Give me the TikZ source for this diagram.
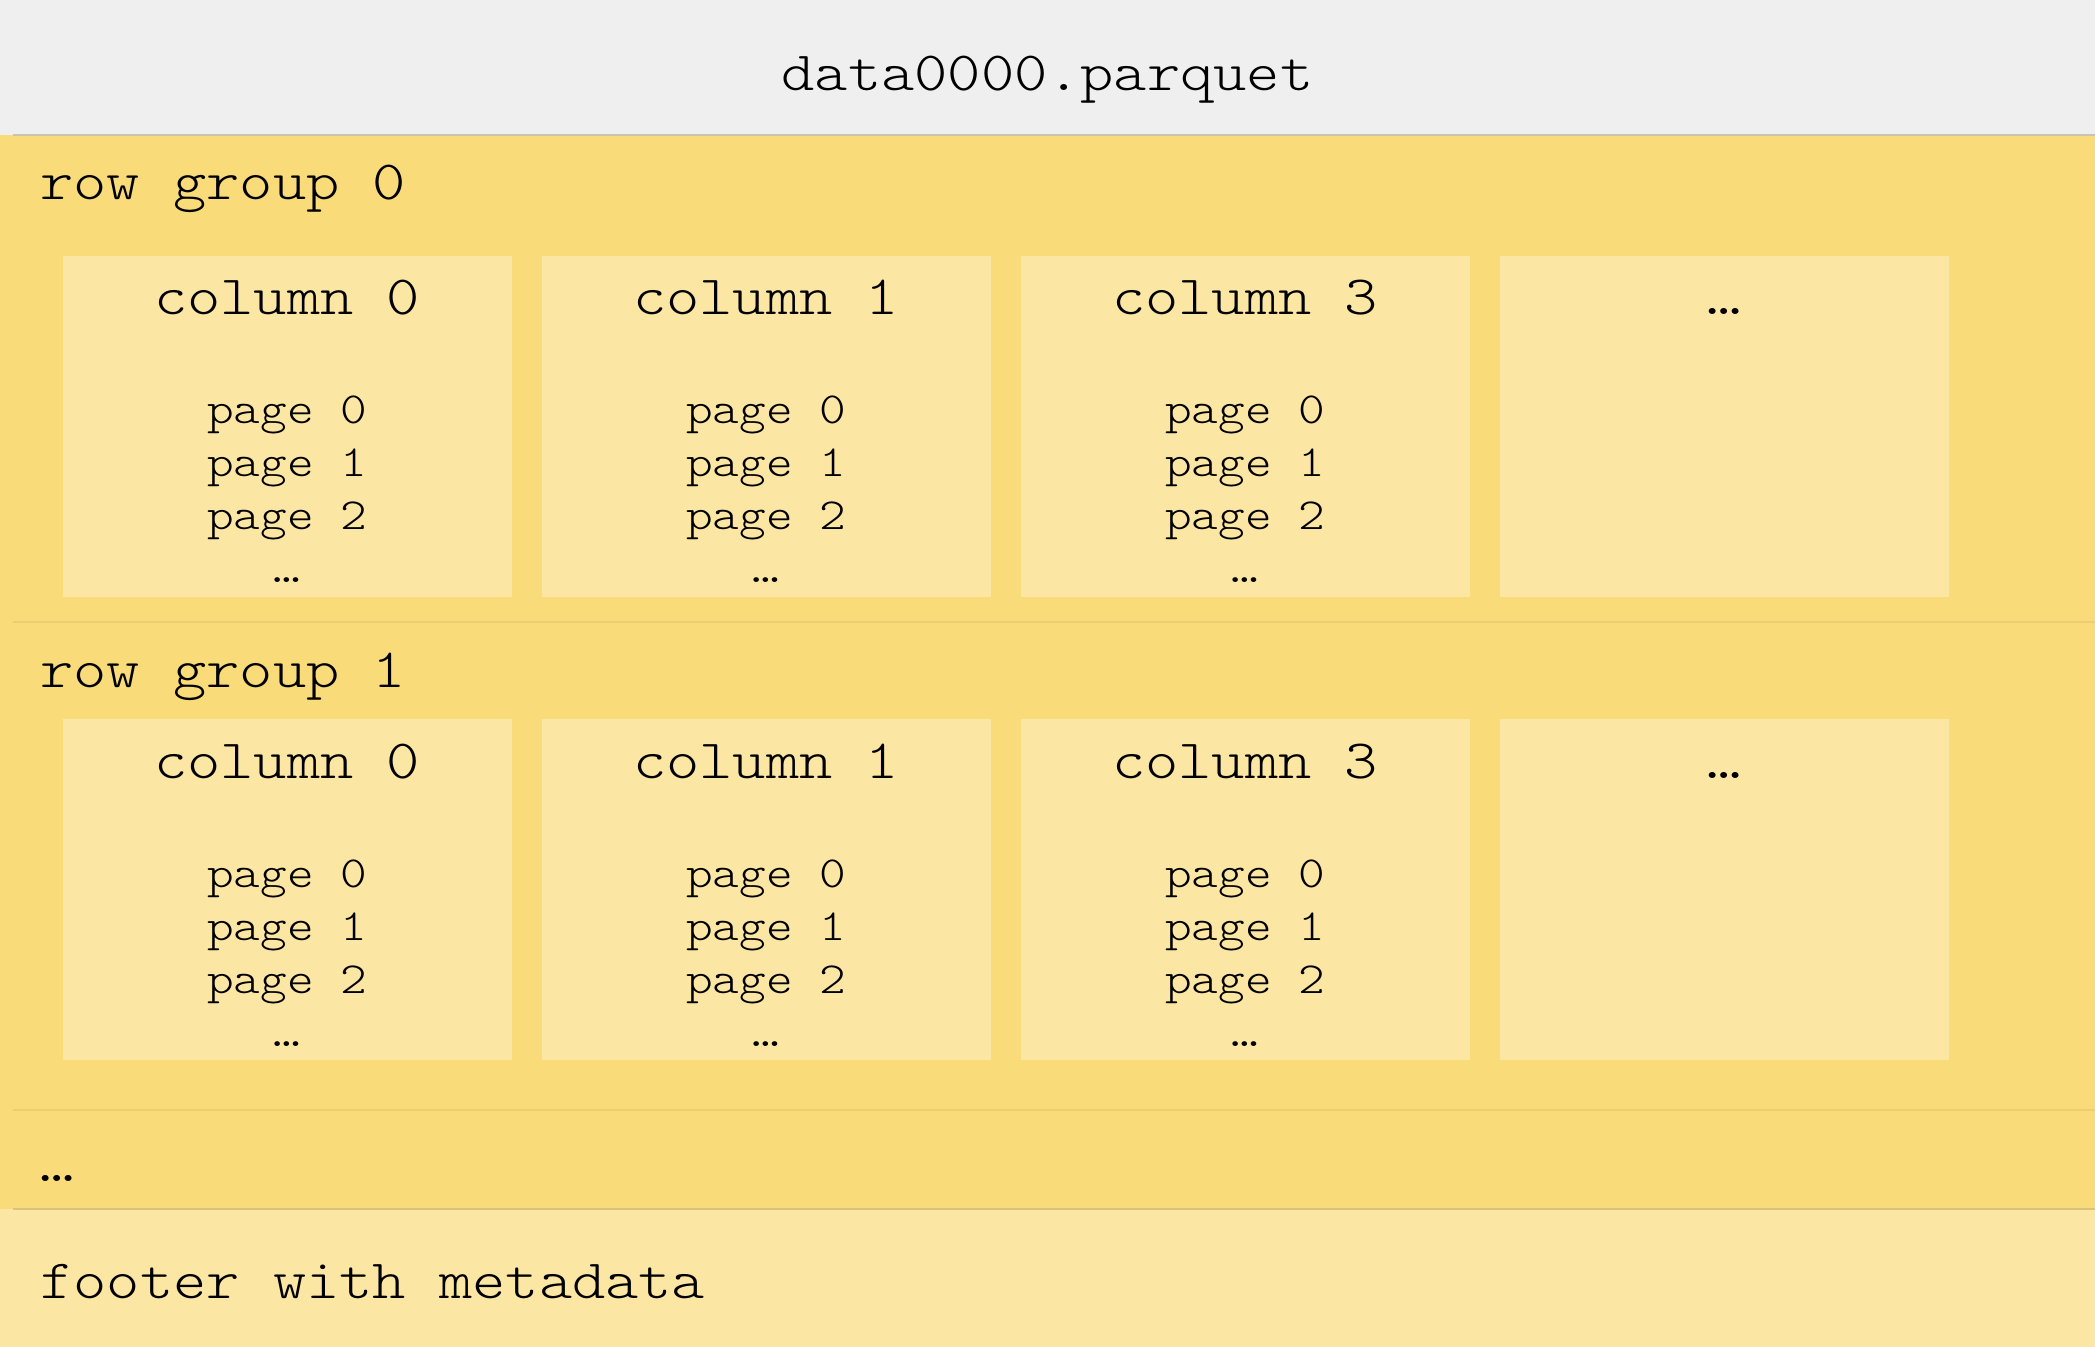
\documentclass[tikz,border=0pt]{standalone}
\usepackage{fontspec}
\setmonofont[FakeStretch=1.143]{Latin Modern Mono Light}

\definecolor{headgray}{HTML}{EFEFEF}
\definecolor{bandyellow}{HTML}{F9DB7A}
\definecolor{boxyellow}{HTML}{FCE6A3}
\definecolor{headline}{HTML}{C8C4B4}
\definecolor{bandline}{HTML}{EBCD72}
\definecolor{footline}{HTML}{D9C27E}

\tikzset{
  bigtxt/.style={font=\ttfamily\fontsize{27.7}{33}\selectfont, inner sep=0pt},
  smalltxt/.style={font=\ttfamily\fontsize{22.2}{26.5}\selectfont, inner sep=0pt},
  colbox/.style={fill=boxyellow, minimum width=224.5pt, minimum height=170.5pt, inner sep=0pt},
  sepline/.style={line width=1pt}
}

\begin{document}
\begin{tikzpicture}[x=0.5pt,y=-0.5pt]
  \useasboundingbox (0,0) rectangle (2095,1347);
  % background bands
  \fill[headgray] (0,0) rectangle (2095,135);
  \fill[bandyellow] (0,135) rectangle (2095,1209);
  \fill[boxyellow] (0,1209) rectangle (2095,1347);
  \draw[sepline,headline] (13,135) -- (2095,135);
  \draw[sepline,bandline] (13,622) -- (2095,622);
  \draw[sepline,bandline] (13,1110) -- (2095,1110);
  \draw[sepline,footline] (13,1209) -- (2095,1209);

  \node[bigtxt, anchor=base] (title) at (1047.5,91) {data0000.parquet};

  % row groups with their column chunks
  \foreach \g/\ly/\by in {0/200/256,1/688/719}{
    \node[bigtxt, anchor=base west] (rg\g) at (40,\ly) {row group \g};
    \foreach \c [count=\i from 0] in {column 0,column 1,column 3,…}{
      \pgfmathsetmacro\cx{287+479*\i}
      \node[colbox, anchor=north] (col\g\i) at (\cx,\by) {};
      \node[bigtxt, anchor=base] (colname\g\i) at (\cx,\by+59) {\c};
      \ifnum\i<3
        \foreach \p [count=\k from 0] in {page 0,page 1,page 2,…}
          \node[smalltxt, anchor=base] (pg\g\i\k) at (\cx,\by+168+53*\k) {\p};
      \fi
    }
  }

  \node[bigtxt, anchor=base west] (more) at (40,1181) {…};
  \node[bigtxt, anchor=base west] (footer) at (40,1298) {footer with metadata};
\end{tikzpicture}
\end{document}
